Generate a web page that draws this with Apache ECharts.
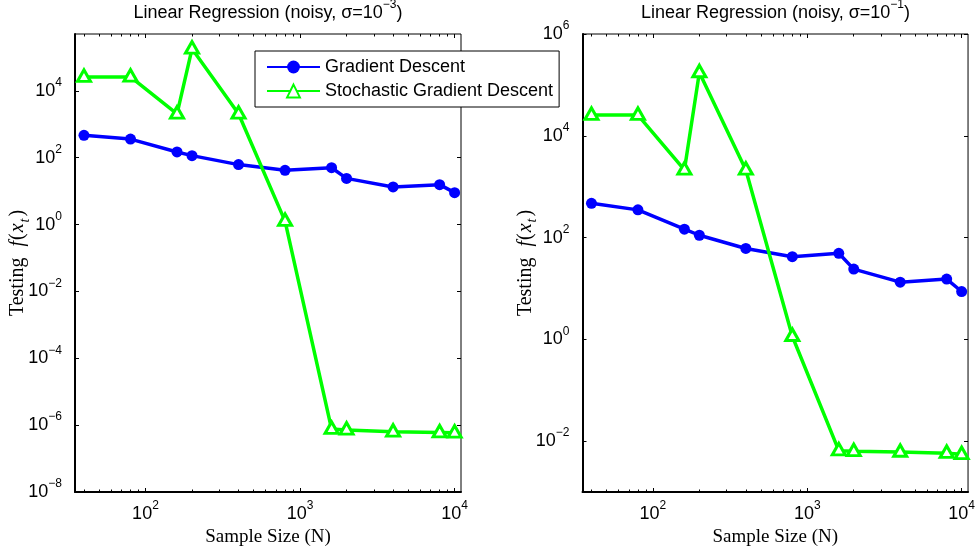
<!DOCTYPE html>
<html><head><meta charset="utf-8">
<script src="https://cdn.jsdelivr.net/npm/echarts@6/dist/echarts.min.js"></script>
<style>html,body{margin:0;padding:0;background:#fff}#c{width:978px;height:552px}</style>
</head><body><div id="c"></div>
<script>
// ---- data ----
const sampleSizes = [40, 80, 160, 200, 400, 800, 1600, 2000, 4000, 8000, 10000];
const gdLeft  = [465, 360, 148, 115, 62, 42, 50, 24, 13.3, 15.6, 9];
const sgdLeft = [25700, 26000, 2050, 180000, 2050, 1.26, 7.6e-7, 7.2e-7, 6.3e-7, 6.0e-7, 5.9e-7];
const gdRight  = [470, 350, 146, 111, 61, 42, 49, 24, 13.3, 15.3, 8.7];
const sgdRight = [25500, 25500, 2130, 175000, 2130, 1.15, 0.0065, 0.0063, 0.0061, 0.0058, 0.0055];
const seriesNames = ['Gradient Descent', 'Stochastic Gradient Descent'];
const titleBase = 'Linear Regression (noisy, \u03c3=10';
const titleExps = ['\u22123', '\u22121'];
const xMajorTicks = [100, 1000, 10000];
const xMinorTicks = [40, 50, 60, 70, 80, 90, 200, 300, 400, 500, 600, 700, 800, 900, 2000, 3000, 4000, 5000, 6000, 7000, 8000, 9000];
const yTicksLeft  = [1e-8, 1e-6, 1e-4, 1e-2, 1, 1e2, 1e4];
const yTicksRight = [1e-2, 1, 1e2, 1e4, 1e6];
const xRange = [35, 11000];
const yRangeLeft = [1e-8, 5e5];
const yRangeRight = [1e-3, 1e6];
const xName = 'Sample Size (N)';

// ---- styling ----
const SANS = 'Liberation Sans';
const SERIF = 'Liberation Serif';
const BLUE = '#0000ff', GREEN = '#00ff00';
const supRich = {
  b: {fontFamily: SANS, fontSize: 18, fontWeight: 'normal', color: '#000', lineHeight: 28, verticalAlign: 'middle'},
  s: {fontFamily: SANS, fontSize: 12, fontWeight: 'normal', color: '#000', verticalAlign: 'top'}
};
function powLabel(v) {
  const e = Math.round(Math.log10(v));
  return '{b|10}{s|' + (e < 0 ? '\u2212' + (-e) : e) + '}';
}
const yNameText = '{r|Testing  }{i|f}{r|(}{i|x}{t|t}{r|)}';
const yNameRich = {
  r: {fontFamily: SERIF, fontSize: 20, color: '#000', lineHeight: 24, verticalAlign: 'top'},
  i: {fontFamily: SERIF, fontSize: 20, fontStyle: 'italic', color: '#000', lineHeight: 24, verticalAlign: 'top', padding: [0, 1, 0, 1]},
  t: {fontFamily: SERIF, fontSize: 14, fontStyle: 'italic', color: '#000', verticalAlign: 'bottom', padding: [0, 2, 0, 0]}
};
const tickStyle = {color: '#000', width: 1};

function xAxesFor(grid) {
  const common = {type: 'log', logBase: 10, gridIndex: grid, min: xRange[0], max: xRange[1],
    splitLine: {show: false}, axisLine: {show: false, onZero: false}, axisLabel: {show: false}};
  return [
    Object.assign({}, common, {position: 'bottom',
      axisLine: {show: true, onZero: false, lineStyle: {color: '#000', width: 2}},
      axisTick: {show: true, inside: true, length: 4, lineStyle: tickStyle, customValues: xMajorTicks},
      axisLabel: {show: true, margin: 8, customValues: xMajorTicks, formatter: powLabel, rich: supRich},
      name: xName, nameLocation: 'middle', nameGap: 36, nameMoveOverlap: false,
      nameTextStyle: {fontFamily: SERIF, fontSize: 19, color: '#000'}}),
    Object.assign({}, common, {position: 'bottom',
      axisTick: {show: true, inside: true, length: 2.5, lineStyle: tickStyle, customValues: xMinorTicks}}),
    Object.assign({}, common, {position: 'top',
      axisTick: {show: true, inside: true, length: 4, lineStyle: tickStyle, customValues: xMajorTicks}}),
    Object.assign({}, common, {position: 'top',
      axisTick: {show: true, inside: true, length: 2.5, lineStyle: tickStyle, customValues: xMinorTicks}})
  ];
}
function yAxesFor(grid, range, ticks) {
  const common = {type: 'log', logBase: 10, gridIndex: grid, min: range[0], max: range[1], splitLine: {show: false}};
  return [
    Object.assign({}, common, {position: 'left',
      axisLine: {show: true, lineStyle: {color: '#000', width: 2}},
      axisTick: {show: true, inside: true, length: 4, lineStyle: tickStyle, customValues: ticks},
      axisLabel: {show: true, margin: 13, customValues: ticks, formatter: powLabel, rich: supRich},
      name: yNameText, nameLocation: 'middle', nameRotate: 90, nameGap: 43, nameMoveOverlap: false,
      nameTextStyle: {rich: yNameRich}}),
    Object.assign({}, common, {position: 'right',
      axisLine: {show: false},
      axisTick: {show: true, inside: true, length: 4, lineStyle: tickStyle, customValues: ticks},
      axisLabel: {show: false}})
  ];
}
function pairs(xs, ys) { return xs.map((x, i) => [x, ys[i]]); }
function gdSeries(xi, yi, vals) {
  return {type: 'line', name: seriesNames[0], xAxisIndex: xi, yAxisIndex: yi, data: pairs(sampleSizes, vals),
    symbol: 'circle', symbolSize: 11, itemStyle: {color: BLUE}, lineStyle: {color: BLUE, width: 3.5}, z: 2};
}
function sgdSeries(xi, yi, vals) {
  return {type: 'line', name: seriesNames[1], xAxisIndex: xi, yAxisIndex: yi, data: pairs(sampleSizes, vals),
    symbol: 'triangle', symbolSize: [13, 11.5], symbolOffset: [0, -1.5],
    itemStyle: {color: '#fff', borderColor: GREEN, borderWidth: 3},
    lineStyle: {color: GREEN, width: 3.5}, z: 3};
}
const titleRich = {
  b: {fontFamily: SANS, fontSize: 18, fontWeight: 'normal', color: '#000', lineHeight: 28, verticalAlign: 'middle'},
  s: {fontFamily: SANS, fontSize: 12, fontWeight: 'normal', color: '#000', verticalAlign: 'top'}
};
function titleText(i) { return '{b|' + titleBase + '}{s|' + titleExps[i] + '}{b|)}'; }

const chart = echarts.init(document.getElementById('c'), null, {renderer: 'canvas'});
chart.setOption({
  animation: false,
  backgroundColor: '#fff',
  title: [
    {text: titleText(0), left: 268, top: -1, textAlign: 'center', padding: 0, textStyle: {fontWeight: 'normal', rich: titleRich}},
    {text: titleText(1), left: 775.5, top: -1, textAlign: 'center', padding: 0, textStyle: {fontWeight: 'normal', rich: titleRich}}
  ],
  grid: [
    {left: 75, top: 34, width: 386, height: 458, show: true, borderColor: '#000', borderWidth: 1, backgroundColor: 'transparent'},
    {left: 582.5, top: 34, width: 386, height: 458, show: true, borderColor: '#000', borderWidth: 1, backgroundColor: 'transparent'}
  ],
  xAxis: xAxesFor(0).concat(xAxesFor(1)),
  yAxis: yAxesFor(0, yRangeLeft, yTicksLeft).concat(yAxesFor(1, yRangeRight, yTicksRight)),
  legend: {
    data: seriesNames, orient: 'vertical', left: 255, top: 51, selectedMode: false,
    itemWidth: 53, itemHeight: 16, itemGap: 6, padding: [7, 6, 7, 11],
    backgroundColor: '#fff', borderColor: '#000', borderWidth: 1, borderRadius: 0,
    textStyle: {fontFamily: SANS, fontSize: 18, color: '#000'}, z: 10
  },
  series: [
    gdSeries(0, 0, gdLeft), sgdSeries(0, 0, sgdLeft),
    gdSeries(4, 2, gdRight), sgdSeries(4, 2, sgdRight)
  ]
});
</script></body></html>
